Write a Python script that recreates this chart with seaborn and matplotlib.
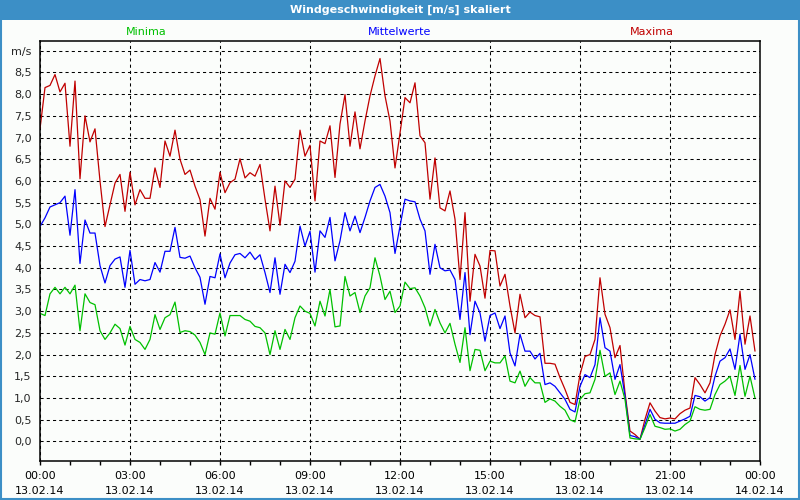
import numpy as np
import pandas as pd
import seaborn as sns
import matplotlib.pyplot as plt
import matplotlib.dates as mdates
from matplotlib.patches import Rectangle


# 10-Minuten-Werte vom 13.02.14, 00:00 bis 23:50
times = pd.date_range("2014-02-13 00:00", periods=144, freq="10min")

maxima = [
    7.2, 8.15, 8.2, 8.45, 8.05, 8.25, 6.8, 8.3, 6.05, 7.5, 6.9, 7.2,
    6.0, 4.95, 5.45, 5.95, 6.15, 5.3, 6.2, 5.45, 5.8, 5.6, 5.6, 6.3,
    5.85, 6.92, 6.57, 7.17, 6.5, 6.15, 6.25, 5.88, 5.57, 4.73, 5.6, 5.35,
    6.2, 5.73, 5.96, 6.04, 6.51, 6.07, 6.19, 6.11, 6.38, 5.58, 4.85, 5.88,
    4.98, 6.0, 5.85, 6.04, 7.17, 6.57, 6.82, 5.54, 6.92, 6.86, 7.27, 6.08,
    7.31, 7.99, 6.8, 7.59, 6.74, 7.38, 7.96, 8.42, 8.82, 7.96, 7.38, 6.3,
    7.1, 7.92, 7.8, 8.26, 7.04, 6.88, 5.58, 6.53, 5.38, 5.31, 5.77, 5.12,
    3.73, 5.27, 3.23, 4.31, 4.04, 3.3, 4.4, 4.39, 3.58, 3.85, 3.12, 2.5,
    3.39, 2.85, 2.98, 2.9, 2.87, 1.8, 1.8, 1.78, 1.47, 1.2, 0.9, 0.85,
    1.54, 1.96, 2.0, 2.35, 3.77, 2.93, 2.62, 1.93, 2.21, 1.12, 0.24, 0.16,
    0.05, 0.51, 0.89, 0.7, 0.55, 0.52, 0.54, 0.52, 0.64, 0.72, 0.77, 1.47,
    1.31, 1.12, 1.35, 2.0, 2.43, 2.7, 3.03, 2.35, 3.46, 2.24, 2.89, 2.08,
]

mittelwerte = [
    4.95, 5.15, 5.4, 5.45, 5.5, 5.65, 4.75, 5.8, 4.1, 5.1, 4.8, 4.8,
    4.05, 3.65, 4.05, 4.2, 4.25, 3.55, 4.4, 3.62, 3.73, 3.7, 3.73, 4.12,
    3.9, 4.38, 4.38, 4.93, 4.24, 4.22, 4.27, 4.0, 3.78, 3.16, 3.8, 3.77,
    4.32, 3.77, 4.11, 4.3, 4.33, 4.23, 4.36, 4.19, 4.3, 3.89, 3.43, 4.23,
    3.39, 4.08, 3.89, 4.15, 4.96, 4.5, 4.84, 3.9, 4.85, 4.7, 5.16, 4.16,
    4.62, 5.27, 4.85, 5.19, 4.81, 5.16, 5.54, 5.85, 5.92, 5.65, 5.27, 4.33,
    4.96, 5.58, 5.54, 5.52, 5.12, 4.85, 3.85, 4.54, 4.0, 3.93, 3.95, 3.73,
    2.81, 3.89, 2.46, 3.23, 2.96, 2.31, 2.9, 2.96, 2.6, 2.89, 2.04, 1.74,
    2.47, 2.08, 2.08, 1.9, 2.03, 1.31, 1.35, 1.27, 1.12, 0.97, 0.74, 0.68,
    1.27, 1.54, 1.47, 1.77, 2.85, 2.16, 2.08, 1.43, 1.77, 1.05, 0.14, 0.11,
    0.05, 0.39, 0.74, 0.51, 0.43, 0.42, 0.42, 0.42, 0.47, 0.52, 0.58, 1.06,
    1.03, 0.93, 1.01, 1.5, 1.85, 1.93, 2.13, 1.66, 2.47, 1.66, 2.0, 1.43,
]

minima = [
    2.95, 2.9, 3.4, 3.55, 3.4, 3.55, 3.4, 3.6, 2.55, 3.4, 3.2, 3.15,
    2.55, 2.35, 2.5, 2.7, 2.6, 2.22, 2.65, 2.35, 2.28, 2.12, 2.35, 2.92,
    2.58, 2.85, 2.92, 3.21, 2.51, 2.55, 2.53, 2.45, 2.28, 2.0, 2.5, 2.47,
    2.96, 2.43, 2.9, 2.9, 2.9, 2.81, 2.77, 2.65, 2.62, 2.5, 2.0, 2.55,
    2.12, 2.58, 2.35, 2.85, 3.12, 3.0, 2.95, 2.66, 3.23, 2.89, 3.5, 2.64,
    2.66, 3.8, 3.35, 3.43, 2.97, 3.35, 3.54, 4.23, 3.81, 3.27, 3.46, 2.97,
    3.12, 3.67, 3.52, 3.54, 3.35, 3.08, 2.66, 3.04, 2.73, 2.5, 2.72, 2.24,
    1.82, 2.62, 1.63, 2.12, 2.1, 1.63, 1.85, 1.81, 1.81, 1.97, 1.39, 1.35,
    1.62, 1.27, 1.47, 1.35, 1.35, 0.9, 0.98, 0.93, 0.81, 0.72, 0.5, 0.45,
    0.97, 1.1, 1.12, 1.43, 2.1, 1.5, 1.58, 1.08, 1.39, 0.97, 0.08, 0.06,
    0.05, 0.32, 0.62, 0.35, 0.32, 0.28, 0.29, 0.24, 0.28, 0.39, 0.47, 0.8,
    0.74, 0.72, 0.74, 1.08, 1.31, 1.39, 1.5, 1.06, 1.75, 1.04, 1.5, 1.0,
]

series_names = ["Maxima", "Mittelwerte", "Minima"]
series_colors = {"Maxima": "#c00000", "Mittelwerte": "#0000ff", "Minima": "#00c000"}

y_ticks = np.arange(0, 9.01, 0.5)
y_labels = [f"{v:.1f}".replace(".", ",") for v in y_ticks[:-1]] + ["m/s"]

df = pd.DataFrame({
    "Zeit": np.tile(times, 3),
    "Wert": maxima + mittelwerte + minima,
    "Reihe": np.repeat(series_names, len(times)),
})

sns.set_style("white")
plt.rcParams["font.family"] = ["DejaVu Sans"]

bg = "#fbfdfb"
bar_blue = "#3c8fc6"

fig = plt.figure(figsize=(8, 5), dpi=100, facecolor=bg)
ax = fig.add_axes([0.05, 0.078, 0.90, 0.8406])
ax.set_facecolor(bg)

sns.lineplot(data=df, x="Zeit", y="Wert", hue="Reihe", hue_order=series_names,
             palette=series_colors, linewidth=0.9, legend=False, ax=ax)

ax.set_xlim(pd.Timestamp("2014-02-13 00:00"), pd.Timestamp("2014-02-14 00:00"))
ax.set_ylim(-0.45, 9.23)

ax.xaxis.set_major_locator(mdates.HourLocator(byhour=range(0, 24, 3)))
ax.xaxis.set_minor_locator(mdates.HourLocator())
ax.xaxis.set_major_formatter(mdates.DateFormatter("%H:%M\n%d.%m.%y"))
ax.set_yticks(y_ticks)
ax.set_yticklabels(y_labels)

ax.tick_params(axis="x", which="both", direction="out", length=3, width=1,
               colors="black", labelsize=8, pad=4, bottom=True)
ax.tick_params(axis="y", length=0, labelsize=8, pad=6)
for lbl in ax.get_xticklabels():
    lbl.set_linespacing(1.7)

ax.grid(True, which="major", color="black", linestyle=(0, (3, 3)), linewidth=0.75)
for s in ax.spines.values():
    s.set_visible(True)
    s.set_color("black")
    s.set_linewidth(1.1)
ax.set_xlabel("")
ax.set_ylabel("")

# Titelleiste und Rahmen
fig.patches.append(Rectangle((0, 0.96), 1, 0.04, transform=fig.transFigure,
                             facecolor=bar_blue, edgecolor="none", zorder=0))
fig.patches.append(Rectangle((0.001, 0.002), 0.998, 0.996, transform=fig.transFigure,
                             facecolor="none", edgecolor=bar_blue, linewidth=1.5, zorder=5))
fig.text(0.5, 0.98, "Windgeschwindigkeit [m/s] skaliert", color="white",
         fontsize=8, fontweight="bold", ha="center", va="center")

# Serienbeschriftung oberhalb der Grafik
fig.text(146 / 800, 1 - 32 / 500, "Minima", color=series_colors["Minima"],
         fontsize=8, ha="center", va="center")
fig.text(400 / 800, 1 - 32 / 500, "Mittelwerte", color=series_colors["Mittelwerte"],
         fontsize=8, ha="center", va="center")
fig.text(652 / 800, 1 - 32 / 500, "Maxima", color=series_colors["Maxima"],
         fontsize=8, ha="center", va="center")

fig.savefig("out.png", dpi=100, facecolor=bg)
